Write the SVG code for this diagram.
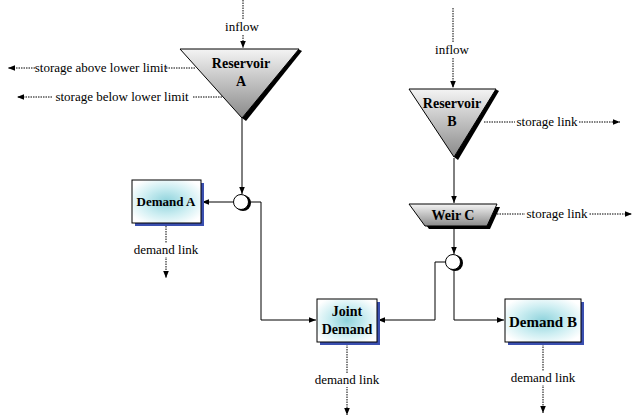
<svg xmlns="http://www.w3.org/2000/svg" width="633" height="420" viewBox="0 0 633 420">
<defs>
<linearGradient id="gtri" x1="0" y1="0" x2="0" y2="1">
<stop offset="0" stop-color="#f4f4f4"/>
<stop offset="1" stop-color="#8a8a8a"/>
</linearGradient>
<radialGradient id="gbox" cx="0.5" cy="0.5" r="0.6">
<stop offset="0" stop-color="#8fd3dc"/>
<stop offset="0.55" stop-color="#cdeef2"/>
<stop offset="1" stop-color="#ffffff"/>
</radialGradient>
<marker id="ah" viewBox="0 0 10 10" refX="10" refY="5" markerWidth="7" markerHeight="7" orient="auto" markerUnits="userSpaceOnUse">
<path d="M0,1 L10,5 L0,9 z" fill="#000"/>
</marker>
</defs>
<style>
text{font-family:'Liberation Serif','Times New Roman','DejaVu Serif',serif}
.lbl{font-size:13px;fill:#000;text-anchor:middle}
.nt{font-size:14px;font-weight:bold;fill:#000;text-anchor:middle}
.sol{fill:none;stroke:#000;stroke-width:1}
.dash{fill:none;stroke:#000;stroke-width:1;stroke-dasharray:1.5,1}
.tri{fill:url(#gtri);stroke:#000;stroke-width:1}
.box{fill:url(#gbox);stroke:#000;stroke-width:1}
.bshadow{fill:#3a4fb0}
.shadow{fill:#000}
.circ{fill:#fff;stroke:#000;stroke-width:1}
</style>
<rect width="633" height="420" fill="#fff"/>
<g id="connectors">
<path class="dash" d="M243,0 V48" marker-end="url(#ah)"/>
<path class="dash" d="M195,68 H8" marker-end="url(#ah)"/>
<path class="dash" d="M222,97 H17" marker-end="url(#ah)"/>
<path class="sol" d="M242,118 V194" marker-end="url(#ah)"/>
<path class="sol" d="M233,202 H202" marker-end="url(#ah)"/>
<path class="sol" d="M249,202 H261 V320 H316" marker-end="url(#ah)"/>
<path class="dash" d="M166,226 V278" marker-end="url(#ah)"/>
<path class="dash" d="M453,8 V88" marker-end="url(#ah)"/>
<path class="dash" d="M484,122 H620" marker-end="url(#ah)"/>
<path class="sol" d="M454,158 V203" marker-end="url(#ah)"/>
<path class="dash" d="M497,214 H632" marker-end="url(#ah)"/>
<path class="sol" d="M454,227 V254" marker-end="url(#ah)"/>
<path class="sol" d="M445,262 H435 V320 H378" marker-end="url(#ah)"/>
<path class="sol" d="M454,270 V320 H504" marker-end="url(#ah)"/>
<path class="dash" d="M347,344 V415" marker-end="url(#ah)"/>
<path class="dash" d="M543,344 V413" marker-end="url(#ah)"/>
<rect x="226" y="20" width="33" height="14" fill="#fff"/>
<rect x="436" y="43" width="33" height="14" fill="#fff"/>
<rect x="36" y="61" width="130" height="14" fill="#fff"/>
<rect x="52" y="90" width="141" height="14" fill="#fff"/>
<rect x="515" y="115" width="64" height="14" fill="#fff"/>
<rect x="525" y="207" width="64" height="14" fill="#fff"/>
<rect x="134" y="243" width="64" height="14" fill="#fff"/>
<rect x="315" y="373" width="64" height="14" fill="#fff"/>
<rect x="511" y="371" width="64" height="14" fill="#fff"/>
<text class="lbl" x="242" y="31" font-family="Liberation Serif, serif">inflow</text>
<text class="lbl" x="452" y="54" font-family="Liberation Serif, serif">inflow</text>
<text class="lbl" x="101" y="72" font-family="Liberation Serif, serif">storage above lower limit</text>
<text class="lbl" x="122" y="101" font-family="Liberation Serif, serif">storage below lower limit</text>
<text class="lbl" x="547" y="126" font-family="Liberation Serif, serif">storage link</text>
<text class="lbl" x="557" y="218" font-family="Liberation Serif, serif">storage link</text>
<text class="lbl" x="166" y="254" font-family="Liberation Serif, serif">demand link</text>
<text class="lbl" x="347" y="384" font-family="Liberation Serif, serif">demand link</text>
<text class="lbl" x="543" y="382" font-family="Liberation Serif, serif">demand link</text>
</g>
<g id="reservoirA">
<polygon class="shadow" points="298,49 302,51 246,121 242,118"/>
<polygon class="tri" points="180,49 299,49 242,118"/>
<text class="nt" x="241" y="68" font-family="Liberation Serif, serif">Reservoir</text>
<text class="nt" x="241" y="86" font-family="Liberation Serif, serif">A</text>
</g>
<g id="reservoirB">
<polygon class="shadow" points="495,89 499,91 458,160 454,157"/>
<polygon class="tri" points="409,89 496,89 454,157"/>
<text class="nt" x="452" y="108" font-family="Liberation Serif, serif">Reservoir</text>
<text class="nt" x="452" y="126" font-family="Liberation Serif, serif">B</text>
</g>
<g id="weirC">
<polygon class="shadow" points="413,207 500,207 490,229 429,229"/>
<polygon class="tri" points="409,204 497,204 487,226 425,226"/>
<text class="nt" x="453" y="220" font-family="Liberation Serif, serif">Weir  C</text>
</g>
<g id="junctionA">
<circle class="shadow" cx="243" cy="203" r="8"/>
<circle class="circ" cx="241" cy="202" r="7.5"/>
</g>
<g id="junctionB">
<circle class="shadow" cx="455" cy="263" r="8"/>
<circle class="circ" cx="453" cy="262" r="7.5"/>
</g>
<g id="demandA">
<rect class="bshadow" x="135" y="183" width="69" height="43"/>
<rect class="box" x="132" y="180" width="69" height="43"/>
<text class="nt" x="166" y="206" style="font-size:13px" font-family="Liberation Serif, serif">Demand A</text>
</g>
<g id="jointDemand">
<rect class="bshadow" x="320" y="302" width="60" height="43"/>
<rect class="box" x="317" y="299" width="60" height="43"/>
<text class="nt" x="347" y="316" font-family="Liberation Serif, serif">Joint</text>
<text class="nt" x="347" y="334" font-family="Liberation Serif, serif">Demand</text>
</g>
<g id="demandB">
<rect class="bshadow" x="508" y="302" width="76" height="43"/>
<rect class="box" x="505" y="299" width="76" height="43"/>
<text class="nt" x="543" y="327" style="font-size:15px" font-family="Liberation Serif, serif">Demand B</text>
</g>
</svg>
